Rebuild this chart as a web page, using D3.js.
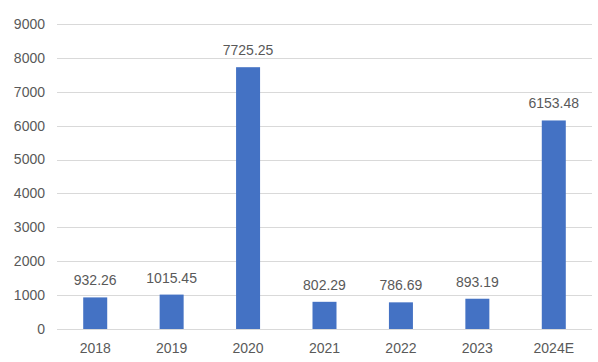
<!DOCTYPE html>
<head>
  <meta charset="utf-8">
  <script src="https://d3js.org/d3.v7.min.js"></script>
  <style type="text/css">
    body { margin:0; background:#fff; }
    .grid line { stroke: #d9d9d9; stroke-width: 1; }
    .bar { fill: #4472c4; }
    text { font-family: "Liberation Sans", Arial, sans-serif; font-size: 14px; fill: #595959; }
  </style>
</head>

<body>
  <script>
  // data
  var years = ["2018", "2019", "2020", "2021", "2022", "2023", "2024E"];
  var values = [932.26, 1015.45, 7725.25, 802.29, 786.69, 893.19, 6153.48];
  var yTicks = [0, 1000, 2000, 3000, 4000, 5000, 6000, 7000, 8000, 9000];

  var W = 598, H = 362;
  var margin = {top: 24, right: 6, bottom: 33, left: 57};
  var width = W - margin.left - margin.right,
      height = H - margin.top - margin.bottom;

  var data = years.map(function(y, i) { return {year: y, value: values[i]}; });

  var xScale = d3.scaleBand()
    .domain(years)
    .range([0, width])
    .paddingInner(0.686)
    .paddingOuter(0.343);

  var yScale = d3.scaleLinear()
    .domain([0, 9000])
    .range([height, 0]);

  var svg = d3.select("body").append("svg")
    .attr("width", W)
    .attr("height", H)
    .append("g")
    .attr("transform", "translate(" + margin.left + "," + margin.top + ")");

  // gridlines
  svg.append("g")
    .attr("class", "grid")
    .selectAll("line")
    .data(yTicks)
    .enter().append("line")
    .attr("x1", 0)
    .attr("x2", width)
    .attr("y1", function(d) { return Math.round(yScale(d)) + 0.5; })
    .attr("y2", function(d) { return Math.round(yScale(d)) + 0.5; });

  // y labels
  svg.append("g")
    .selectAll("text")
    .data(yTicks)
    .enter().append("text")
    .attr("x", -12)
    .attr("y", function(d) { return yScale(d); })
    .attr("dy", "0.35em")
    .attr("text-anchor", "end")
    .text(function(d) { return d; });

  // bars
  svg.selectAll(".bar")
    .data(data)
    .enter().append("rect")
    .attr("class", "bar")
    .attr("x", function(d) { return xScale(d.year); })
    .attr("width", xScale.bandwidth())
    .attr("y", function(d) { return yScale(d.value); })
    .attr("height", function(d) { return height - yScale(d.value); });

  // value labels
  svg.selectAll(".val")
    .data(data)
    .enter().append("text")
    .attr("class", "val")
    .attr("x", function(d) { return xScale(d.year) + xScale.bandwidth() / 2; })
    .attr("y", function(d) { return yScale(d.value) - 12; })
    .attr("text-anchor", "middle")
    .text(function(d) { return d.value.toFixed(2); });

  // x labels
  svg.selectAll(".xl")
    .data(years)
    .enter().append("text")
    .attr("class", "xl")
    .attr("x", function(d) { return xScale(d) + xScale.bandwidth() / 2; })
    .attr("y", height + 24)
    .attr("text-anchor", "middle")
    .text(function(d) { return d; });
  </script>
</body>
